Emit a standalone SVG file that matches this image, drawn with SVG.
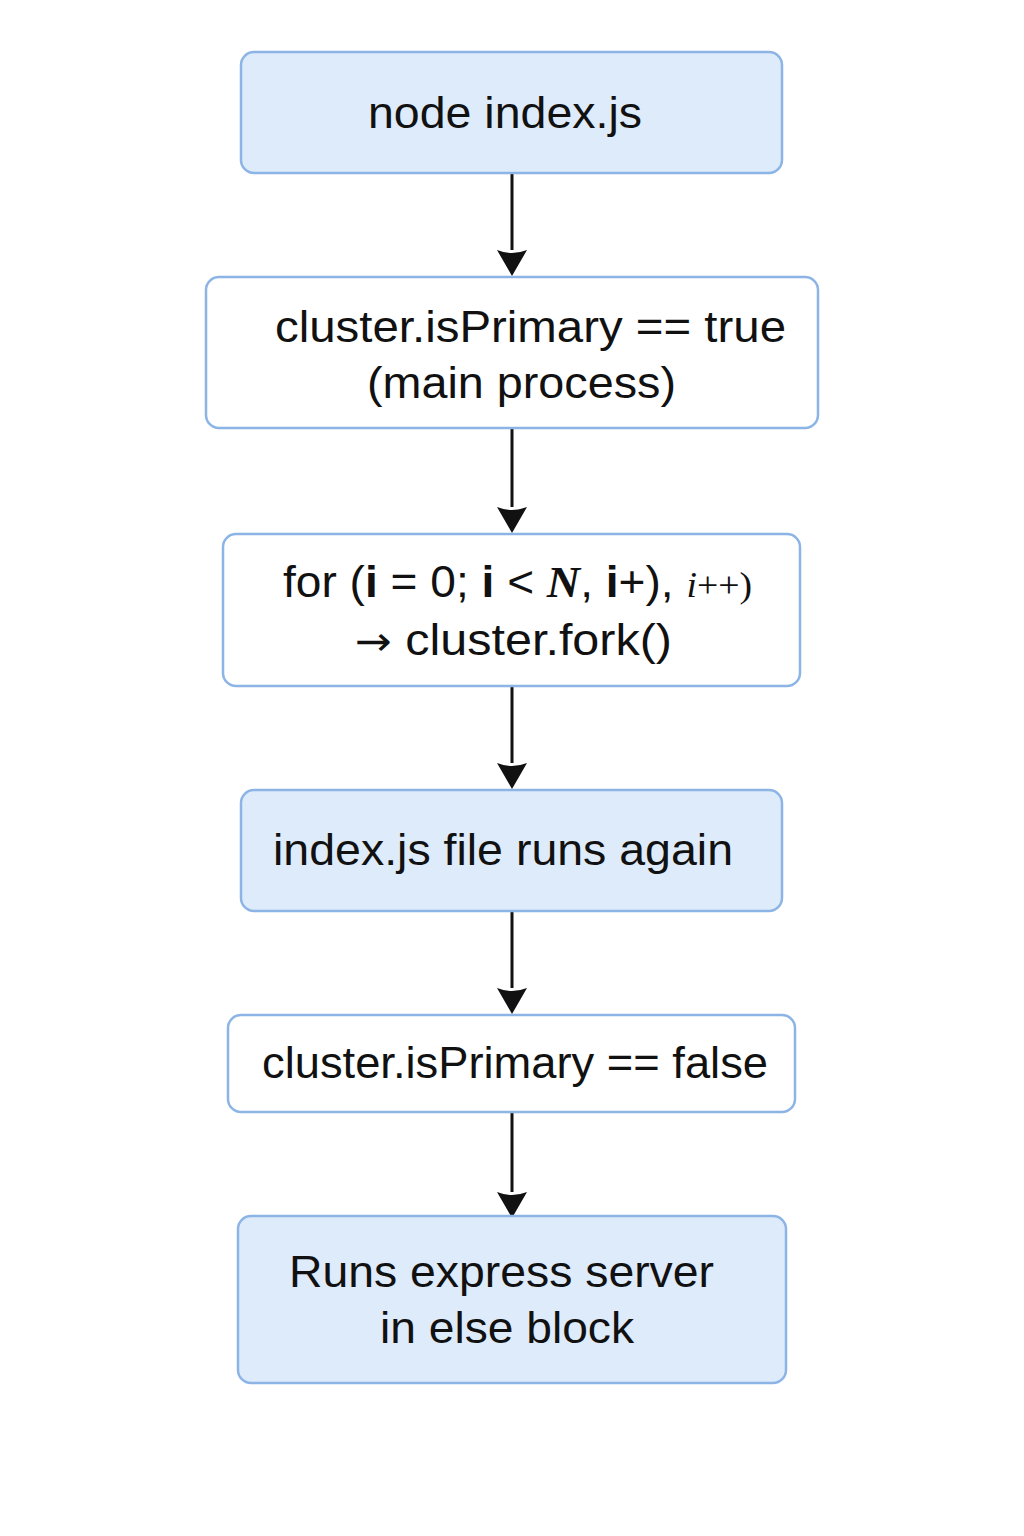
<svg xmlns="http://www.w3.org/2000/svg" width="1024" height="1536" viewBox="0 0 1024 1536">
<style>
.box{stroke:#8cb5e6;stroke-width:2.5}
.blue{fill:#deebfb}
.white{fill:#ffffff}
.t{font-family:"Liberation Sans","Arial",sans-serif;font-size:44px;fill:#111111}
.edge{stroke:#111111;stroke-width:3;fill:none}
.head{fill:#111111}
</style>
<rect width="1024" height="1536" fill="#ffffff"/>
<g id="connectors">
<line class="edge" x1="512" y1="174" x2="512" y2="250"/>
<path class="head" d="M497,250 Q512,256 527,250 L512,276 Z"/>
<line class="edge" x1="512" y1="429" x2="512" y2="507"/>
<path class="head" d="M497,507 Q512,513 527,507 L512,533 Z"/>
<line class="edge" x1="512" y1="687" x2="512" y2="763"/>
<path class="head" d="M497,763 Q512,769 527,763 L512,789 Z"/>
<line class="edge" x1="512" y1="912" x2="512" y2="988"/>
<path class="head" d="M497,988 Q512,994 527,988 L512,1014 Z"/>
<line class="edge" x1="512" y1="1113" x2="512" y2="1192"/>
<path class="head" d="M497,1192 Q512,1198 527,1192 L512,1218 Z"/>
</g>
<g id="n1">
<rect class="box blue" x="241" y="52" width="541" height="121" rx="13"/>
<text class="t" x="368" y="128" textLength="274" lengthAdjust="spacingAndGlyphs">node index.js</text>
</g>
<g id="n2">
<rect class="box white" x="206" y="277" width="612" height="151" rx="13"/>
<text class="t" x="275" y="342" textLength="511" lengthAdjust="spacingAndGlyphs">cluster.isPrimary ==  true</text>
<text class="t" x="367" y="398" textLength="309" lengthAdjust="spacingAndGlyphs">(main process)</text>
</g>
<g id="n3">
<rect class="box white" x="223" y="534" width="577" height="152" rx="13"/>
<text class="t" x="283" y="597" textLength="469" lengthAdjust="spacingAndGlyphs">for (<tspan font-weight="bold">i</tspan> = 0; <tspan font-weight="bold">i</tspan> &lt; <tspan font-family="'Liberation Serif','Times New Roman',serif" font-style="italic" font-weight="bold">N</tspan>, <tspan font-weight="bold">i</tspan>+), <tspan font-family="'Liberation Serif','Times New Roman',serif" font-size="36"><tspan font-style="italic">i</tspan>++)</tspan></text>
<text class="t" x="355" y="655" textLength="317" lengthAdjust="spacingAndGlyphs"><tspan font-family="'DejaVu Sans',sans-serif" font-size="40">→</tspan> cluster.fork()</text>
</g>
<g id="n4">
<rect class="box blue" x="241" y="790" width="541" height="121" rx="13"/>
<text class="t" x="273" y="865" textLength="460" lengthAdjust="spacingAndGlyphs">index.js file runs again</text>
</g>
<g id="n5">
<rect class="box white" x="228" y="1015" width="567" height="97" rx="13"/>
<text class="t" x="262" y="1078" textLength="506" lengthAdjust="spacingAndGlyphs">cluster.isPrimary ==  false</text>
</g>
<g id="n6">
<rect class="box blue" x="238" y="1216" width="548" height="167" rx="13"/>
<text class="t" x="289" y="1287" textLength="425" lengthAdjust="spacingAndGlyphs">Runs express server</text>
<text class="t" x="380" y="1343" textLength="254" lengthAdjust="spacingAndGlyphs">in else block</text>
</g>
</svg>
